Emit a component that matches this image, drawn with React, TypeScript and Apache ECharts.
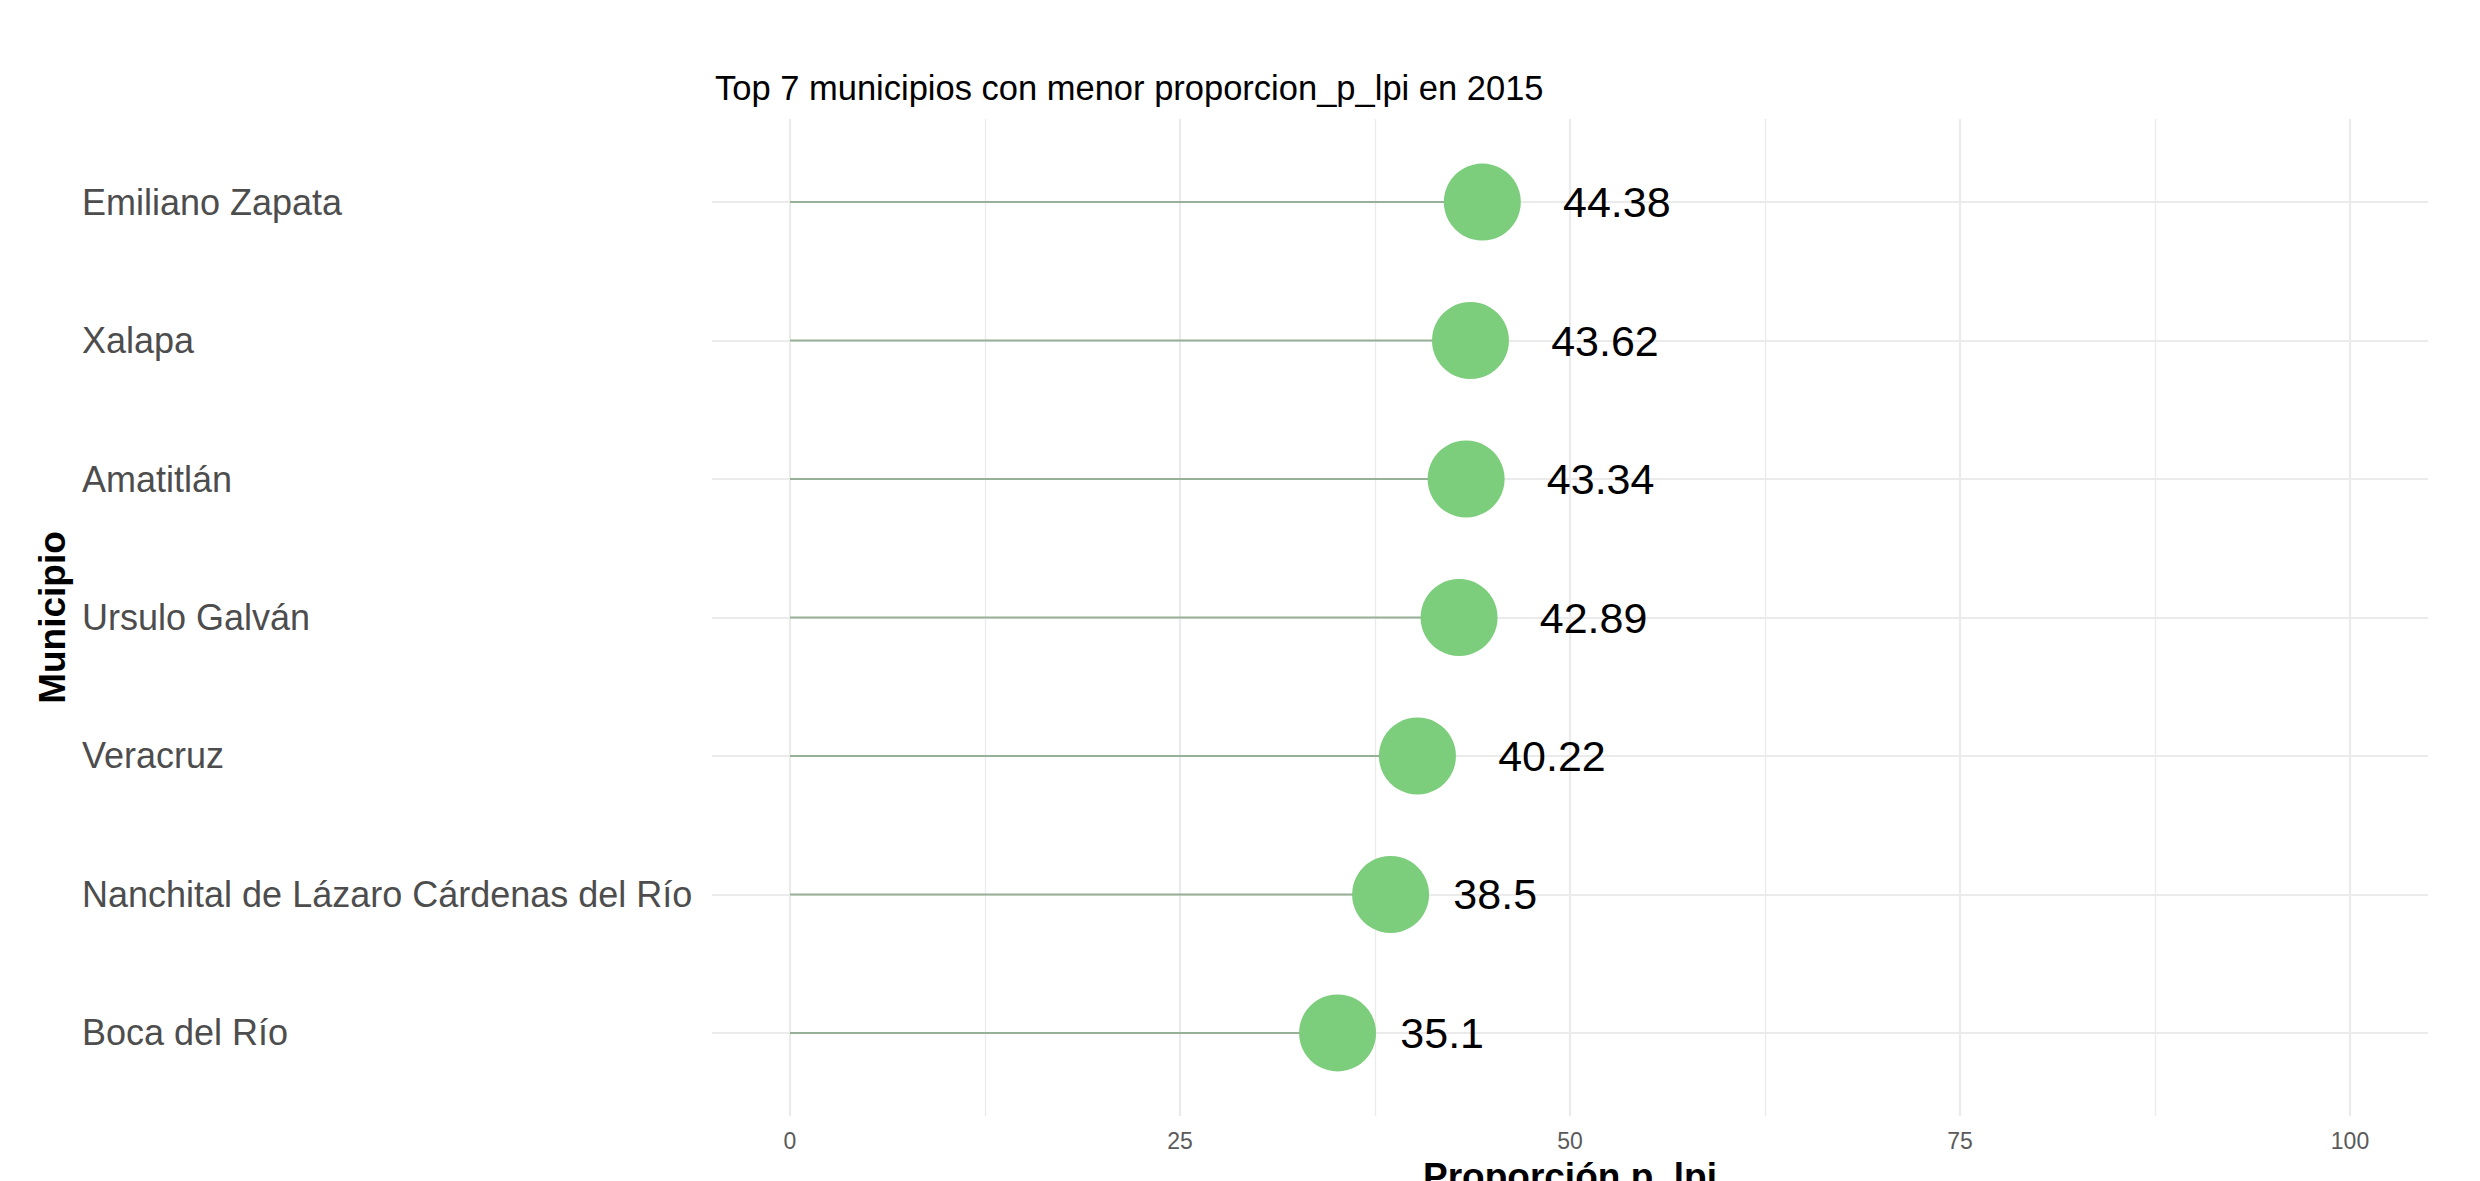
import React, { useEffect, useRef } from "react";
import * as echarts from "echarts";

const categories = [
  "Emiliano Zapata",
  "Xalapa",
  "Amatitlán",
  "Ursulo Galván",
  "Veracruz",
  "Nanchital de Lázaro Cárdenas del Río",
  "Boca del Río",
];
const values = [44.38, 43.62, 43.34, 42.89, 40.22, 38.5, 35.1];
const valueLabels = ["44.38", "43.62", "43.34", "42.89", "40.22", "38.5", "35.1"];
const xTicks = [0, 25, 50, 75, 100];
const xGridLines = [0, 12.5, 25, 37.5, 50, 62.5, 75, 87.5, 100];

const FONT = "'Liberation Sans', Arial, sans-serif";
const SYMBOL = 77;
const VAL_FONT = 43;

function measure(text: string, size: number) {
  const c = document.createElement("canvas").getContext("2d");
  if (!c) return text.length * size * 0.55;
  c.font = `${size}px 'Liberation Sans', Arial, sans-serif`;
  return c.measureText(text).width;
}

export default function App() {
  const ref = useRef<HTMLDivElement>(null);
  useEffect(() => {
    document.body.style.margin = "0";
    document.body.style.overflow = "hidden";
    document.documentElement.style.overflow = "hidden";
    const chart = echarts.init(ref.current as HTMLDivElement, null, { renderer: "svg" });
    const segData = values.map((v, i) => [v, i]);
    const pointData = values.map((v, i) => ({
      value: [v, i],
      label: { distance: 0.75 * measure(valueLabels[i], VAL_FONT) - SYMBOL / 2 },
    }));
    const option: any = {
      animation: false,
      backgroundColor: "#ffffff",
      title: {
        text: "Top 7 municipios con menor proporcion_p_lpi en 2015",
        left: 715,
        top: 71,
        padding: 0,
        textStyle: { fontFamily: FONT, fontSize: 34.5, fontWeight: "normal", color: "#000000", lineHeight: 34 },
      },
      grid: {
        left: 712,
        right: 52,
        top: 119,
        bottom: 65,
        containLabel: false,
        outerBoundsMode: "none",
      },
      xAxis: {
        type: "value",
        min: -5,
        max: 105,
        axisLine: { show: false },
        axisTick: { show: false },
        splitLine: { show: false },
        axisLabel: {
          customValues: xTicks,
          margin: 13,
          fontFamily: FONT,
          fontSize: 23,
          color: "#5a5a5a",
        },
        name: "Proporción p_lpi",
        nameLocation: "middle",
        nameGap: 42,
        nameTextStyle: {
          fontFamily: FONT,
          fontSize: 37,
          fontWeight: "bold",
          color: "#000000",
          verticalAlign: "top",
          lineHeight: 37,
        },
      },
      yAxis: {
        type: "value",
        min: -0.6,
        max: 6.6,
        inverse: true,
        axisLine: { show: false },
        axisTick: { show: false },
        splitLine: { show: false },
        axisLabel: {
          customValues: categories.map((_, i) => i),
          formatter: (v: number) => categories[Math.round(v)] ?? "",
          align: "left",
          margin: 630,
          fontFamily: FONT,
          fontSize: 36,
          color: "#4d4d4d",
        },
        name: "Municipio",
        nameLocation: "middle",
        nameRotate: 90,
        nameGap: 656,
        nameTextStyle: {
          fontFamily: FONT,
          fontSize: 37,
          fontWeight: "bold",
          color: "#000000",
          align: "center",
          verticalAlign: "middle",
        },
      },
      series: [
        {
          type: "scatter",
          data: segData,
          symbolSize: 0,
          z: 0,
          silent: true,
          markLine: {
            z: 0,
            silent: true,
            symbol: ["none", "none"],
            label: { show: false },
            animation: false,
            lineStyle: { color: "#ebebeb", type: "solid", width: 2 },
            data: [
              ...xGridLines.map((v) => ({
                xAxis: v,
                lineStyle: { color: "#ebebeb", type: "solid", width: v % 25 === 0 ? 2.2 : 1.3 },
              })),
              ...categories.map((_, i) => ({
                yAxis: i,
                lineStyle: { color: "#ebebeb", type: "solid", width: 2.2 },
              })),
            ],
          },
        },
        {
          type: "custom",
          z: 10,
          data: segData,
          encode: { x: 0, y: 1 },
          renderItem: (params: any, api: any) => {
            const v = api.value(0);
            const i = api.value(1);
            const p0 = api.coord([0, i]);
            const p1 = api.coord([v, i]);
            return {
              type: "line",
              shape: { x1: p0[0], y1: p0[1], x2: p1[0], y2: p1[1] },
              style: { stroke: "#97b097", lineWidth: 2 },
            };
          },
        },
        {
          type: "scatter",
          z: 20,
          data: pointData,
          symbol: "circle",
          symbolSize: SYMBOL,
          itemStyle: { color: "#7ccd7c", opacity: 1 },
          label: {
            show: true,
            position: "right",
            formatter: (p: any) => valueLabels[p.dataIndex],
            fontFamily: FONT,
            fontSize: VAL_FONT,
            color: "#000000",
          },
        },
      ],
    };
    chart.setOption(option);
    return () => chart.dispose();
  }, []);
  return (
    <div
      ref={ref}
      style={{ position: "fixed", left: 0, top: 0, width: 2480, height: 1181 }}
    />
  );
}
